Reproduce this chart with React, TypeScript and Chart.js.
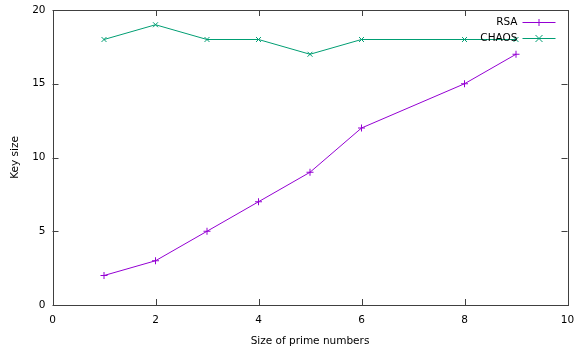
import React, { useEffect, useRef } from "react";
import { Chart, registerables } from "chart.js";

Chart.register(...registerables);

// Size of prime numbers (x) against resulting key size (y)
const primeSizes = [1, 2, 3, 4, 5, 6, 8, 9];
const rsaKeySizes = [2, 3, 5, 7, 9, 12, 15, 17];
const chaosKeySizes = [18, 19, 18, 18, 17, 18, 18, 18];

const seriesNames = ["RSA", "CHAOS"];
const seriesColors = ["#9400d3", "#009e73"];
const seriesMarkers = ["cross", "crossRot"];

const xTitle = "Size of prime numbers";
const yTitle = "Key size";

const FONT = "'DejaVu Sans', sans-serif";
const FRAME = "#404040";
const TICK_LEN = 6;

function drawMarker(ctx: CanvasRenderingContext2D, kind: string, x: number, y: number, r: number) {
  ctx.beginPath();
  if (kind === "cross") {
    ctx.moveTo(x - r, y);
    ctx.lineTo(x + r, y);
    ctx.moveTo(x, y - r);
    ctx.lineTo(x, y + r);
  } else {
    ctx.moveTo(x - r, y - r);
    ctx.lineTo(x + r, y + r);
    ctx.moveTo(x - r, y + r);
    ctx.lineTo(x + r, y - r);
  }
  ctx.stroke();
}

// Frame with inward ticks on all four sides, plus the key in the top-right corner
const framePlugin = {
  id: "gnuFrame",
  afterDatasetsDraw(chart: any) {
    const { ctx, chartArea } = chart;
    const { left, right, top, bottom } = chartArea;
    const xs = chart.scales.x;
    const ys = chart.scales.y;
    ctx.save();
    ctx.strokeStyle = FRAME;
    ctx.lineWidth = 1;
    ctx.strokeRect(Math.round(left) + 0.5, Math.round(top) + 0.5, Math.round(right - left), Math.round(bottom - top));
    ctx.beginPath();
    xs.ticks.forEach((t: any) => {
      const px = Math.round(xs.getPixelForValue(t.value)) + 0.5;
      ctx.moveTo(px, bottom);
      ctx.lineTo(px, bottom - TICK_LEN);
      ctx.moveTo(px, top);
      ctx.lineTo(px, top + TICK_LEN);
    });
    ys.ticks.forEach((t: any) => {
      const py = Math.round(ys.getPixelForValue(t.value)) + 0.5;
      ctx.moveTo(left, py);
      ctx.lineTo(left + TICK_LEN, py);
      ctx.moveTo(right, py);
      ctx.lineTo(right - TICK_LEN, py);
    });
    ctx.stroke();

    // key
    ctx.font = `10.5px ${FONT}`;
    ctx.textAlign = "right";
    ctx.textBaseline = "middle";
    const textRight = right - 50;
    const sampleL = right - 45;
    const sampleR = right - 12;
    chart.data.datasets.forEach((ds: any, i: number) => {
      const y = top + 12.5 + i * 16;
      ctx.fillStyle = "#000";
      ctx.fillText(ds.label, textRight, y);
      ctx.strokeStyle = ds.borderColor;
      ctx.lineWidth = 1;
      ctx.beginPath();
      ctx.moveTo(sampleL, y);
      ctx.lineTo(sampleR, y);
      ctx.stroke();
      drawMarker(ctx, seriesMarkers[i], (sampleL + sampleR) / 2, y, 3.5);
    });
    ctx.restore();
  },
};

export default function App() {
  const ref = useRef<HTMLCanvasElement | null>(null);

  useEffect(() => {
    document.body.style.margin = "0";
    const canvas = ref.current;
    if (!canvas) return;
    const seriesValues = [rsaKeySizes, chaosKeySizes];
    const chart = new Chart(canvas, {
      type: "line",
      data: {
        datasets: seriesNames.map((name, i) => ({
          label: name,
          data: primeSizes.map((x, j) => ({ x, y: seriesValues[i][j] })),
          borderColor: seriesColors[i],
          backgroundColor: seriesColors[i],
          borderWidth: 1,
          pointStyle: seriesMarkers[i] as any,
          pointRadius: 3.5,
          pointBorderWidth: 1,
          pointBorderColor: seriesColors[i],
          tension: 0,
          fill: false,
        })),
      },
      options: {
        responsive: false,
        animation: false,
        devicePixelRatio: 1,
        layout: { padding: { top: 10, right: 6.5, left: 0, bottom: 0 } },
        plugins: {
          legend: { display: false },
          tooltip: { enabled: false },
        },
        scales: {
          x: {
            type: "linear",
            min: 0,
            max: 10,
            grid: { display: false, drawTicks: false },
            border: { display: false },
            ticks: {
              stepSize: 2,
              padding: 9,
              color: "#000",
              font: { family: FONT, size: 10.5 },
              maxRotation: 0,
            },
            title: {
              display: true,
              text: xTitle,
              color: "#000",
              font: { family: FONT, size: 10.5 },
              padding: { top: 0, bottom: 3 },
            },
            afterFit(scale: any) {
              scale.height = 46;
              scale.paddingLeft = 0;
              scale.paddingRight = 0;
            },
          },
          y: {
            type: "linear",
            min: 0,
            max: 20,
            grid: { display: false, drawTicks: false },
            border: { display: false },
            ticks: {
              stepSize: 5,
              padding: 7,
              color: "#000",
              font: { family: FONT, size: 10.5 },
            },
            title: {
              display: true,
              text: yTitle,
              color: "#000",
              font: { family: FONT, size: 10.5 },
              padding: { top: 9, bottom: 0 },
            },
            afterFit(scale: any) {
              scale.width = 52.5;
              scale.paddingTop = 0;
              scale.paddingBottom = 0;
            },
          },
        },
      },
      plugins: [framePlugin],
    });
    return () => chart.destroy();
  }, []);

  return <canvas ref={ref} width={574} height={351} style={{ display: "block" }} />;
}
